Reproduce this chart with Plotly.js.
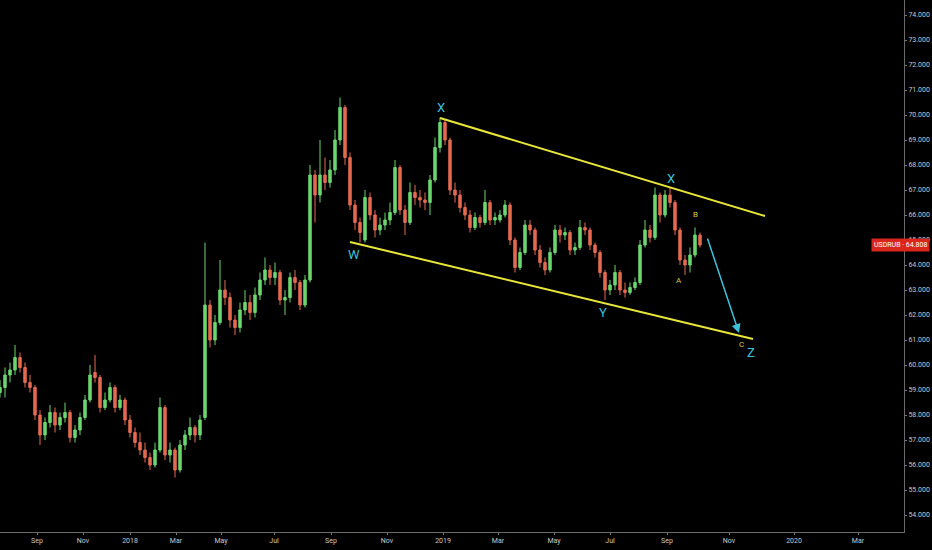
<!DOCTYPE html>
<html>
<head>
<meta charset="utf-8">
<script src="https://cdn.plot.ly/plotly-3.0.1.min.js"></script>
<style>
  html, body { margin: 0; padding: 0; background: #000; }
  #chart { width: 932px; height: 550px; }
</style>
</head>
<body>
<div id="chart"></div>
<script>
// USDRUB daily-ish bars (one bar every ~5px)
var opens = [58.9, 59.1, 59.6, 59.8, 60.3, 59.9, 59.3, 59.1, 58.0, 57.2,
    57.7, 58.1, 57.6, 57.9, 58.1, 57.1, 57.4, 57.9, 58.6, 59.7,
    59.5, 58.3, 58.6, 59.1, 58.3, 58.6, 57.8, 57.3, 56.9, 56.6,
    56.3, 56.0, 56.6, 58.3, 56.4, 56.6, 55.8, 56.8, 57.2, 57.5,
    57.2, 57.9, 62.4, 61.0, 61.7, 63.0, 62.7, 61.8, 61.5, 62.2,
    62.5, 62.1, 62.8, 63.4, 63.8, 63.5, 63.7, 62.6, 62.7, 63.5,
    63.3, 62.4, 63.4, 67.6, 66.8, 67.6, 67.3, 67.8, 69.0, 70.3,
    68.3, 66.4, 65.7, 65.0, 66.7, 66.0, 65.4, 65.6, 65.8, 66.1,
    67.9, 66.2, 65.7, 66.9, 66.7, 66.6, 66.5, 67.4, 68.7, 69.7,
    69.0, 67.0, 66.8, 66.3, 66.0, 65.5, 65.9, 65.7, 66.5, 65.8,
    65.8, 66.0, 66.4, 65.0, 63.9, 64.5, 65.6, 65.4, 64.6, 64.1,
    63.8, 64.5, 65.4, 65.2, 65.3, 64.6, 64.7, 65.5, 65.4, 64.8,
    64.5, 63.7, 63.0, 63.2, 63.7, 63.0, 62.9, 63.1, 63.3, 64.8,
    65.4, 65.1, 66.8, 66.0, 66.8, 66.5, 65.4, 64.2, 64.0, 64.4,
    65.2];
var highs = [59.4, 59.9, 60.1, 60.8, 60.5, 60.1, 59.6, 59.2, 58.2, 57.9,
    58.4, 58.3, 58.1, 58.5, 58.2, 57.6, 58.1, 58.8, 60.0, 60.4,
    59.6, 58.9, 59.3, 59.2, 58.8, 58.7, 58.0, 57.5, 57.3, 56.9,
    56.5, 56.9, 58.7, 58.4, 56.9, 56.7, 57.0, 57.4, 57.9, 57.6,
    58.0, 64.9, 62.6, 62.0, 64.2, 63.4, 62.9, 62.0, 62.5, 63.0,
    62.8, 63.1, 63.7, 64.3, 64.0, 64.1, 63.8, 63.0, 63.7, 63.8,
    63.4, 63.6, 68.0, 67.8, 69.0, 68.3, 68.2, 69.4, 70.7, 70.4,
    68.5, 66.6, 65.9, 67.0, 66.9, 66.2, 65.9, 66.1, 66.5, 68.2,
    68.0, 66.4, 67.3, 67.2, 67.0, 66.9, 67.6, 69.1, 69.9, 69.8,
    69.1, 67.3, 67.0, 66.5, 66.2, 66.1, 66.0, 67.0, 66.6, 66.1,
    66.2, 66.6, 66.5, 65.1, 64.7, 65.8, 65.8, 65.5, 64.8, 64.3,
    64.7, 65.6, 65.6, 65.5, 65.4, 64.9, 65.8, 65.7, 65.5, 64.9,
    64.6, 63.8, 63.4, 64.0, 63.8, 63.3, 63.3, 63.5, 65.0, 65.8,
    65.6, 67.1, 66.9, 67.0, 67.1, 66.6, 65.5, 64.4, 64.7, 65.5,
    65.3];
var lows = [58.7, 58.7, 59.3, 59.6, 59.7, 59.1, 58.9, 57.8, 56.8, 57.0,
    57.5, 57.3, 57.4, 57.7, 56.9, 56.9, 57.2, 57.8, 58.5, 59.3,
    58.1, 58.2, 58.5, 58.1, 58.2, 57.6, 57.1, 56.7, 56.4, 56.1,
    55.8, 55.9, 56.5, 56.2, 56.1, 55.5, 55.7, 56.6, 57.0, 56.9,
    57.0, 57.8, 60.7, 60.8, 61.6, 62.4, 61.5, 61.2, 61.3, 62.0,
    61.8, 61.9, 62.6, 63.2, 63.2, 63.2, 62.4, 62.0, 62.5, 63.0,
    62.2, 62.3, 63.3, 65.7, 66.5, 67.0, 67.1, 67.6, 68.8, 68.0,
    66.2, 65.4, 64.9, 64.9, 65.8, 65.1, 65.2, 65.4, 65.6, 66.0,
    66.0, 65.2, 65.6, 66.4, 66.3, 66.2, 66.0, 67.3, 68.5, 68.8,
    66.8, 66.5, 66.1, 65.8, 65.3, 65.4, 65.5, 65.6, 65.6, 65.6,
    65.7, 65.9, 64.8, 63.7, 63.8, 64.4, 65.2, 64.4, 63.9, 63.6,
    63.7, 64.4, 64.9, 65.0, 64.4, 64.4, 64.6, 65.2, 64.6, 64.3,
    63.5, 62.6, 62.8, 63.0, 62.8, 62.7, 62.8, 63.0, 63.2, 64.7,
    64.9, 65.0, 65.7, 65.9, 66.3, 65.2, 64.0, 63.6, 63.7, 64.3,
    64.7];
var closes = [59.1, 59.6, 59.8, 60.3, 59.9, 59.3, 59.1, 58.0, 57.2, 57.7,
    58.1, 57.6, 57.9, 58.1, 57.1, 57.4, 57.9, 58.6, 59.6, 59.5,
    58.3, 58.6, 59.1, 58.3, 58.6, 57.8, 57.3, 56.9, 56.6, 56.3,
    56.0, 56.6, 58.3, 56.4, 56.6, 55.8, 56.8, 57.2, 57.5, 57.2,
    57.8, 62.4, 61.0, 61.7, 63.0, 62.7, 61.8, 61.5, 62.2, 62.5,
    62.1, 62.8, 63.4, 63.8, 63.5, 63.7, 62.6, 62.7, 63.5, 63.3,
    62.4, 63.4, 67.6, 66.8, 67.6, 67.3, 67.8, 69.0, 70.3, 68.3,
    66.4, 65.7, 65.3, 66.7, 66.0, 65.4, 65.6, 65.8, 66.1, 67.9,
    66.2, 65.7, 66.9, 66.7, 66.6, 66.5, 67.4, 68.7, 69.7, 69.0,
    67.0, 66.8, 66.3, 66.0, 65.5, 65.9, 65.7, 66.5, 65.8, 65.9,
    66.0, 66.4, 65.0, 63.9, 64.5, 65.6, 65.4, 64.6, 64.1, 63.8,
    64.5, 65.4, 65.2, 65.3, 64.6, 64.7, 65.5, 65.4, 64.8, 64.5,
    63.7, 63.0, 63.2, 63.7, 63.0, 62.9, 63.1, 63.3, 64.8, 65.4,
    65.1, 66.8, 66.0, 66.8, 66.5, 65.4, 64.2, 64.0, 64.4, 65.2,
    64.8];

// month ticks, in bar units (the axis is bar-indexed like the source)
var tickLabels = ['Sep', 'Nov', '2018', 'Mar', 'May', 'Jul', 'Sep', 'Nov',
    '2019', 'Mar', 'May', 'Jul', 'Sep', 'Nov', '2020', 'Mar'];
var tickBars = [7.4, 16.6, 26, 35.2, 44.2, 54.8, 66.2, 77.4,
    88.6, 99.6, 110.8, 122, 133.4, 145.8, 158.8, 171.6];

var lastPrice = 64.808;

// wave drawing: channel lines and labels, in [bar, price]
var upperLine = [[88, 69.88], [153, 65.96]];
var lowerLine = [[70, 64.92], [150.6, 61.04]];
var arrowLine = [[141.4, 65.12], [147.8, 61.28]];
var waveLabels = ['W', 'X', 'Y', 'X', 'Z'];
var waveAt = [[70.8, 64.44], [88.2, 70.32], [120.6, 62.12], [134.2, 67.48], [150.1, 60.52]];
var subLabels = ['A', 'B', 'C'];
var subAt = [[135.8, 63.4], [139, 66.04], [148.3, 60.84]];

var bars = closes.map(function (c, i) { return i; });

var candles = {
    type: 'candlestick',
    x: bars,
    open: opens,
    high: highs,
    low: lows,
    close: closes,
    increasing: { line: { color: '#6bd66e', width: 1 }, fillcolor: '#6bd66e' },
    decreasing: { line: { color: '#e46a50', width: 1 }, fillcolor: '#e46a50' },
    whiskerwidth: 0,
    hoverinfo: 'skip',
    showlegend: false
};

var yellow = '#e8e63a';
var cyan = '#3cc3dc';
var smallFont = 'Roboto, DejaVu Sans';

var shapes = [upperLine, lowerLine].map(function (ln) {
    return {
        type: 'line', xref: 'x', yref: 'y',
        x0: ln[0][0], y0: ln[0][1], x1: ln[1][0], y1: ln[1][1],
        line: { color: yellow, width: 2 }
    };
});

var annotations = [];
waveLabels.forEach(function (t, i) {
    annotations.push({
        x: waveAt[i][0], y: waveAt[i][1], xref: 'x', yref: 'y',
        text: t, showarrow: false,
        font: { family: smallFont, size: 13, color: cyan }
    });
});
subLabels.forEach(function (t, i) {
    annotations.push({
        x: subAt[i][0], y: subAt[i][1], xref: 'x', yref: 'y',
        text: t, showarrow: false,
        font: { family: smallFont, size: 8, color: '#d8c94a' }
    });
});
annotations.push({
    x: arrowLine[1][0], y: arrowLine[1][1], xref: 'x', yref: 'y',
    ax: arrowLine[0][0], ay: arrowLine[0][1], axref: 'x', ayref: 'y',
    text: '', showarrow: true, arrowhead: 2, arrowsize: 1.2,
    arrowwidth: 1.5, arrowcolor: cyan
});
annotations.push({
    x: 1.0285, y: lastPrice, xref: 'paper', yref: 'y',
    xanchor: 'right', yanchor: 'middle',
    text: 'USDRUB · ' + lastPrice.toFixed(3), showarrow: false,
    bgcolor: '#d8261c', borderpad: 2,
    font: { family: smallFont, size: 7, color: '#ffffff' }
});

var axisFont = { family: smallFont, size: 7, color: '#c8c8c8' };

var layout = {
    width: 932,
    height: 550,
    margin: { l: 0, r: 28, t: 0, b: 18 },
    paper_bgcolor: '#000000',
    plot_bgcolor: '#000000',
    showlegend: false,
    dragmode: false,
    xaxis: {
        range: [0, 180.8],
        rangeslider: { visible: false },
        tickmode: 'array',
        tickvals: tickBars,
        ticktext: tickLabels,
        tickfont: axisFont,
        ticks: 'outside',
        ticklen: 2,
        tickcolor: '#777777',
        showgrid: false,
        zeroline: false,
        showline: true,
        linecolor: '#6a6a6a',
        linewidth: 1
    },
    yaxis: {
        side: 'right',
        range: [53.32, 74.6],
        dtick: 1,
        tick0: 54,
        tickformat: '.3f',
        tickfont: axisFont,
        ticks: 'outside',
        ticklen: 2,
        tickcolor: '#777777',
        showgrid: false,
        zeroline: false,
        showline: true,
        linecolor: '#6a6a6a',
        linewidth: 1
    },
    shapes: shapes,
    annotations: annotations
};

Plotly.newPlot('chart', [candles], layout, { displayModeBar: false, staticPlot: true });
</script>
</body>
</html>
